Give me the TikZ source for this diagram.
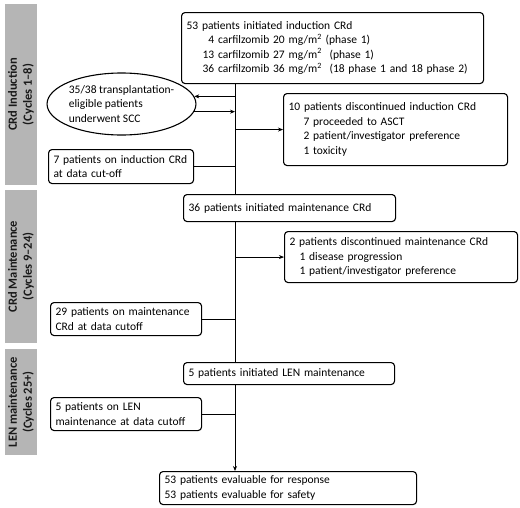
\documentclass[tikz,border=0pt]{standalone}
\usepackage{fontspec}
\setmainfont{Carlito}
\usetikzlibrary{shapes.geometric,arrows.meta}
\begin{document}
\begin{tikzpicture}[x=1pt,y=-1pt,
  txt/.style={font=\fontsize{11.5}{14.5}\selectfont},
  box/.style={txt, draw, line width=1.1pt, rounded corners=3.5pt, inner xsep=5pt, inner ysep=0pt, align=left, anchor=north west},
  bar/.style={fill=black!29, draw=none, rotate=90, minimum height=32pt, inner sep=0pt, align=center, text=black!90, font=\fontsize{12.5}{15}\selectfont\bfseries},
  con/.style={line width=1pt},
  arr/.style={con, -{Stealth[length=5pt,width=4pt]}}]
\useasboundingbox (0,0) rectangle (520,507);

% side bars
\node[bar, minimum width=181pt] (g1) at (21,94.5) {CRd Induction\\(Cycles 1–8)};
\node[bar, minimum width=153pt] (g2) at (21,266.5) {CRd Maintenance\\(Cycles 9–24)};
\node[bar, minimum width=106pt] (g3) at (21,402) {LEN maintenance\\(Cycles 25+)};

% spine
\coordinate (sp) at (235,0);

% boxes
\node[box, text width=292pt, minimum height=71pt] (b1) at (181,12) {53 patients initiated induction CRd\\
\hspace*{16pt}\makebox[11.7pt][r]{4} carfilzomib 20 mg/m\textsuperscript{2} (phase 1)\\
\hspace*{16pt}\makebox[11.7pt][r]{13} carfilzomib 27 mg/m\textsuperscript{2}\ \ (phase 1)\\
\hspace*{16pt}\makebox[11.7pt][r]{36} carfilzomib 36 mg/m\textsuperscript{2}\ \ (18 phase 1 and 18 phase 2)};

\node[txt, draw, ellipse, line width=1.1pt, minimum width=147pt, minimum height=62pt, inner sep=0pt, align=left] (ell) at (121.5,104) {35/38 transplantation-\\eligible patients\\underwent SCC};

\node[box, text width=214pt, minimum height=72pt] (d1) at (283,93) {10 patients discontinued induction CRd\\
\hspace*{15pt}7 proceeded to ASCT\\
\hspace*{15pt}2 patient/investigator preference\\
\hspace*{15pt}1 toxicity};

\node[box, text width=135pt, minimum height=34pt] (c1) at (48,149) {7 patients on induction CRd\\at data cut-off};

\node[box, text width=202pt, minimum height=27pt] (b2) at (183,194) {36 patients initiated maintenance CRd};

\node[box, text width=223pt, minimum height=51pt] (d2) at (284,231) {2 patients discontinued maintenance CRd\\
\hspace*{10pt}1 disease progression\\
\hspace*{10pt}1 patient/investigator preference};

\node[box, text width=141pt, minimum height=33pt] (c2) at (50,302) {29 patients on maintenance\\CRd at data cutoff};

\node[box, text width=201pt, minimum height=22pt] (b3) at (183,362) {5 patients initiated LEN maintenance};

\node[box, text width=141pt, minimum height=33pt] (c3) at (50,397) {5 patients on LEN\\maintenance at data cutoff};

\node[box, text width=247pt, minimum height=33pt] (fin) at (159,471) {53 patients evaluable for response\\53 patients evaluable for safety};

% connectors
\draw[con] (b1.south -| sp) -- (b2.north -| sp);
\draw[arr] (sp |- ell.6) -- (ell.6);
\draw[arr] (ell.-6) -- (sp |- ell.-6);
\draw[arr] (sp |- d1.west) -- (d1.west);
\draw[con] (c1.east) -- (sp |- c1.east);
\draw[con] (b2.south -| sp) -- (b3.north -| sp);
\draw[arr] (sp |- d2.west) -- (d2.west);
\draw[con] (c2.east) -- (sp |- c2.east);
\draw[arr] (b3.south -| sp) -- (fin.north -| sp);
\draw[con] (c3.east) -- (sp |- c3.east);
\end{tikzpicture}
\end{document}
